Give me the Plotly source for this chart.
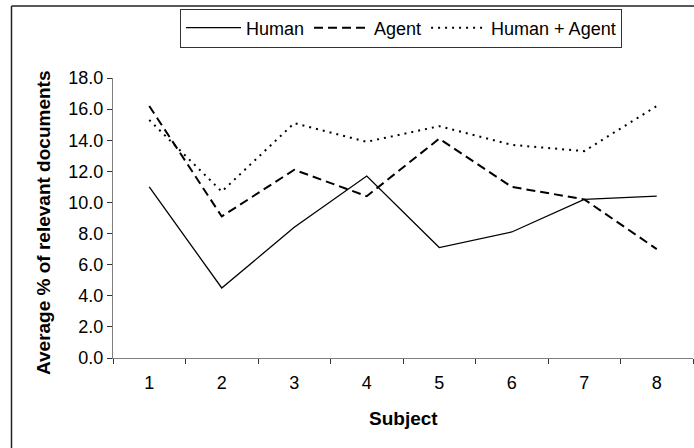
import plotly.graph_objects as go

subjects = [1, 2, 3, 4, 5, 6, 7, 8]
subject_labels = ["1", "2", "3", "4", "5", "6", "7", "8"]
human = [11.0, 4.5, 8.4, 11.7, 7.1, 8.1, 10.2, 10.4]
agent = [16.2, 9.1, 12.1, 10.4, 14.1, 11.0, 10.2, 7.0]
human_agent = [15.3, 10.7, 15.1, 13.9, 14.9, 13.7, 13.3, 16.2]
y_ticks = [0, 2, 4, 6, 8, 10, 12, 14, 16, 18]

FONT = "Liberation Sans, Arial, Helvetica, sans-serif"
AXIS_GREY = "#7f7f7f"

fig = go.Figure()
fig.add_trace(go.Scatter(x=subjects, y=human, mode="lines", name="Human",
                         line=dict(color="black", width=1.3)))
fig.add_trace(go.Scatter(x=subjects, y=agent, mode="lines", name="Agent",
                         line=dict(color="black", width=2, dash="9px,5px")))
fig.add_trace(go.Scatter(x=subjects, y=human_agent, mode="lines", name="Human + Agent",
                         line=dict(color="black", width=2, dash="2px,5px")))

W, H = 694, 448
L, R, T, B = 113, 1, 78, 90
pw, ph = W - L - R, H - T - B

def px_x(x):
    return (x - L) / pw

def px_y(y):
    return (H - B - y) / ph

fig.update_layout(
    width=W, height=H,
    margin=dict(l=L, r=R, t=T, b=B, pad=0),
    paper_bgcolor="white", plot_bgcolor="white",
    font=dict(family=FONT, size=18, color="black"),
    showlegend=True,
    legend=dict(orientation="h", x=px_x(180), y=px_y(28), xanchor="left", yanchor="middle",
                bgcolor="white", bordercolor="#333333", borderwidth=1,
                font=dict(family=FONT, size=18, color="black"),
                itemwidth=55, tracegroupgap=0),
    xaxis=dict(range=[0.5, 8.5], tickmode="array", tickvals=subjects, ticktext=subject_labels,
               ticks="outside", ticklen=8, tickcolor="rgba(0,0,0,0)",
               showline=True, linecolor=AXIS_GREY, linewidth=1, showgrid=False, zeroline=False,
               minor=dict(tickvals=[i + 0.5 for i in range(0, 9)], ticks="outside", ticklen=5,
                          tickcolor="#333333", tickwidth=1, showgrid=False),
               tickfont=dict(size=18)),
    yaxis=dict(range=[0, 18], tickmode="array", tickvals=y_ticks, tickformat=".1f",
               ticks="outside", ticklen=5, tickcolor="#333333",
               showline=True, linecolor=AXIS_GREY, linewidth=1, showgrid=False, zeroline=False,
               tickfont=dict(size=18)),
    annotations=[
        dict(text="<b>Subject</b>", xref="paper", yref="paper", x=0.5, y=px_y(418),
             xanchor="center", yanchor="middle", showarrow=False,
             font=dict(family=FONT, size=19, color="black")),
        dict(text="<b>Average % of relevant documents</b>", xref="paper", yref="paper",
             x=px_x(44), y=px_y(223), xanchor="center", yanchor="middle", textangle=-90,
             showarrow=False, font=dict(family=FONT, size=19, color="black")),
    ],
    shapes=[
        dict(type="line", xref="paper", yref="paper", x0=px_x(11.5), x1=px_x(700),
             y0=px_y(6), y1=px_y(6), line=dict(color="#222222", width=1.5)),
        dict(type="line", xref="paper", yref="paper", x0=px_x(11.5), x1=px_x(11.5),
             y0=px_y(6), y1=px_y(460), line=dict(color="#222222", width=1.5)),
    ],
)

fig.write_html("out.html")
